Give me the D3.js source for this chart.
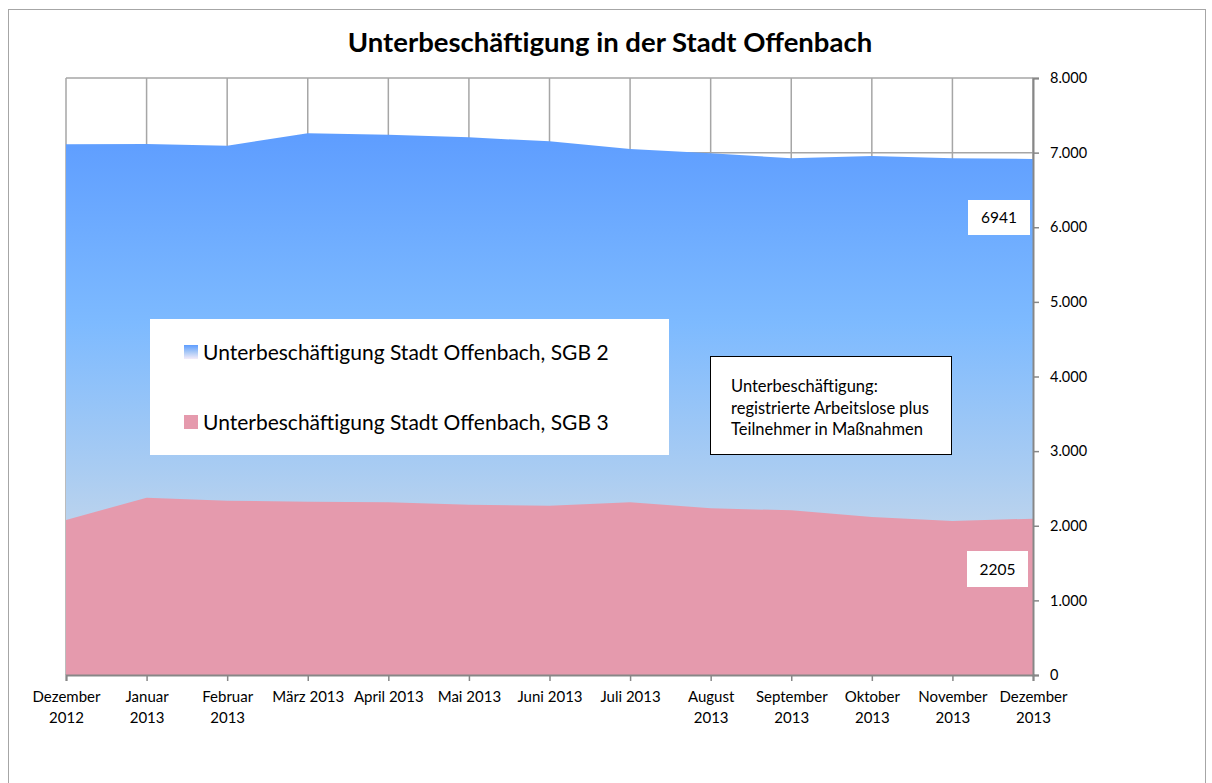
<!DOCTYPE html>
<html>
<head>
<meta charset="utf-8">
<script src="https://cdn.jsdelivr.net/npm/d3@7"></script>
<style>
  body { margin: 0; background: #fff; }
  svg { display: block; font-family: Lato, "Open Sans", sans-serif; }
</style>
</head>
<body>
<svg id="chart" width="1212" height="783"></svg>
<script>
// ---- data ----
const categories = [
  "Dezember\n2012", "Januar\n2013", "Februar\n2013", "März 2013", "April 2013",
  "Mai 2013", "Juni 2013", "Juli 2013", "August\n2013", "September\n2013",
  "Oktober\n2013", "November\n2013", "Dezember\n2013"
];
const sgb2 = [7112, 7115, 7093, 7259, 7240, 7205, 7151, 7049, 6991, 6924, 6955, 6924, 6915];
const sgb3 = [2077, 2376, 2336, 2323, 2314, 2283, 2269, 2314, 2233, 2207, 2117, 2064, 2095];
const yTicks = [0, 1000, 2000, 3000, 4000, 5000, 6000, 7000, 8000];
const seriesNames = ["Unterbeschäftigung Stadt Offenbach, SGB 2", "Unterbeschäftigung Stadt Offenbach, SGB 3"];
const title = "Unterbeschäftigung in der Stadt Offenbach";
const noteLines = ["Unterbeschäftigung:", "registrierte Arbeitslose plus", "Teilnehmer in Maßnahmen"];
const valueLabels = ["6941", "2205"];

// ---- layout ----
const svg = d3.select("#chart");
const L = 66, R = 1033, T = 78, B = 675;

const x = d3.scalePoint().domain(d3.range(categories.length)).range([L, R]);
const y = d3.scaleLinear().domain([0, 8000]).range([B, T]);

// outer frame
svg.append("rect").attr("x", 8.5).attr("y", 9.5).attr("width", 1197).attr("height", 800)
  .attr("fill", "#fff").attr("stroke", "#a6a6a6").attr("stroke-width", 1);

// gradients
const defs = svg.append("defs");
const g1 = defs.append("linearGradient").attr("id", "blueGrad")
  .attr("gradientUnits", "userSpaceOnUse").attr("x1", 0).attr("x2", 0)
  .attr("y1", y(7259)).attr("y2", y(0));
[[0, "#5e9dff"], [0.35, "#7dbaff"], [0.62, "#a9ccf2"], [0.75, "#c0d5ec"], [1, "#e6dff0"]]
  .forEach(([o, c]) => g1.append("stop").attr("offset", o).attr("stop-color", c));
const g2 = defs.append("linearGradient").attr("id", "legGrad").attr("x1", 0).attr("x2", 0).attr("y1", 0).attr("y2", 1);
[[0, "#5e9dff"], [0.5, "#a8c8f6"], [1, "#f4ecfa"]]
  .forEach(([o, c]) => g2.append("stop").attr("offset", o).attr("stop-color", c));

// gridlines
const grid = svg.append("g");
grid.selectAll("line.h").data(yTicks).join("line")
  .attr("x1", L).attr("x2", R).attr("y1", d => y(d)).attr("y2", d => y(d))
  .attr("stroke", "#a6a6a6").attr("stroke-width", 1.5);
grid.selectAll("line.v").data(d3.range(categories.length)).join("line")
  .attr("x1", d => x(d)).attr("x2", d => x(d)).attr("y1", T).attr("y2", B)
  .attr("stroke", "#a6a6a6").attr("stroke-width", 1.5);

// areas
const area = vals => d3.area().x((d, i) => x(i)).y0(y(0)).y1(d => y(d))(vals);
svg.append("path").attr("d", area(sgb2)).attr("fill", "url(#blueGrad)");
svg.append("path").attr("d", area(sgb3)).attr("fill", "#e59aad");

// axes
const yAxis = d3.axisRight(y).tickValues(yTicks).tickSize(6).tickPadding(11)
  .tickFormat(d => d3.format(",")(d).replace(/,/g, "."));
const ya = svg.append("g").attr("transform", `translate(${R},0)`).call(yAxis);
ya.select(".domain").attr("stroke", "#878787").attr("stroke-width", 2);
ya.selectAll(".tick line").attr("stroke", "#878787").attr("stroke-width", 1.5);
ya.selectAll(".tick text").attr("font-size", 14.5).attr("fill", "#000").attr("font-family", "Lato");

const xAxis = d3.axisBottom(x).tickSize(6).tickFormat(() => "");
const xa = svg.append("g").attr("transform", `translate(0,${B})`).call(xAxis);
xa.select(".domain").attr("stroke", "#878787").attr("stroke-width", 2);
xa.selectAll(".tick line").attr("stroke", "#878787").attr("stroke-width", 1.5);
xa.selectAll(".tick").each(function (d) {
  const lines = categories[d].split("\n");
  const t = d3.select(this).append("text").attr("fill", "#000").attr("font-size", 15)
    .attr("text-anchor", "middle").attr("font-family", "Lato");
  lines.forEach((ln, k) => t.append("tspan").attr("x", 0).attr("y", 26.5 + k * 21).text(ln));
});

// title
svg.append("text").attr("x", 610).attr("y", 52).attr("text-anchor", "middle")
  .attr("font-size", 27.5).attr("font-weight", "bold").attr("fill", "#000").text(title);

// legend
const lg = svg.append("g");
lg.append("rect").attr("x", 150).attr("y", 319).attr("width", 519).attr("height", 136).attr("fill", "#fff");
const legFills = ["url(#legGrad)", "#e59aad"];
seriesNames.forEach((n, i) => {
  const yy = 352 + i * 70;
  lg.append("rect").attr("x", 184).attr("y", yy - 7).attr("width", 14).attr("height", 14).attr("fill", legFills[i]);
  lg.append("text").attr("x", 203).attr("y", yy + 7.5).attr("font-size", 21).attr("fill", "#000").text(n);
});

// note box
const nb = svg.append("g");
nb.append("rect").attr("x", 710.5).attr("y", 356.5).attr("width", 241).attr("height", 98)
  .attr("fill", "#fff").attr("stroke", "#000").attr("stroke-width", 1);
noteLines.forEach((ln, k) => {
  nb.append("text").attr("x", 731).attr("y", 392 + k * 21.5).attr("font-size", 16.5).attr("fill", "#000").text(ln);
});

// value labels
const vl = [{ x: 968, y: 200, w: 62, h: 35, t: valueLabels[0] }, { x: 967, y: 551, w: 61, h: 36, t: valueLabels[1] }];
vl.forEach(v => {
  svg.append("rect").attr("x", v.x).attr("y", v.y).attr("width", v.w).attr("height", v.h).attr("fill", "#fff");
  svg.append("text").attr("x", v.x + v.w / 2).attr("y", v.y + v.h / 2 + 5.5).attr("text-anchor", "middle")
    .attr("font-size", 15.5).attr("fill", "#000").text(v.t);
});
</script>
</body>
</html>
